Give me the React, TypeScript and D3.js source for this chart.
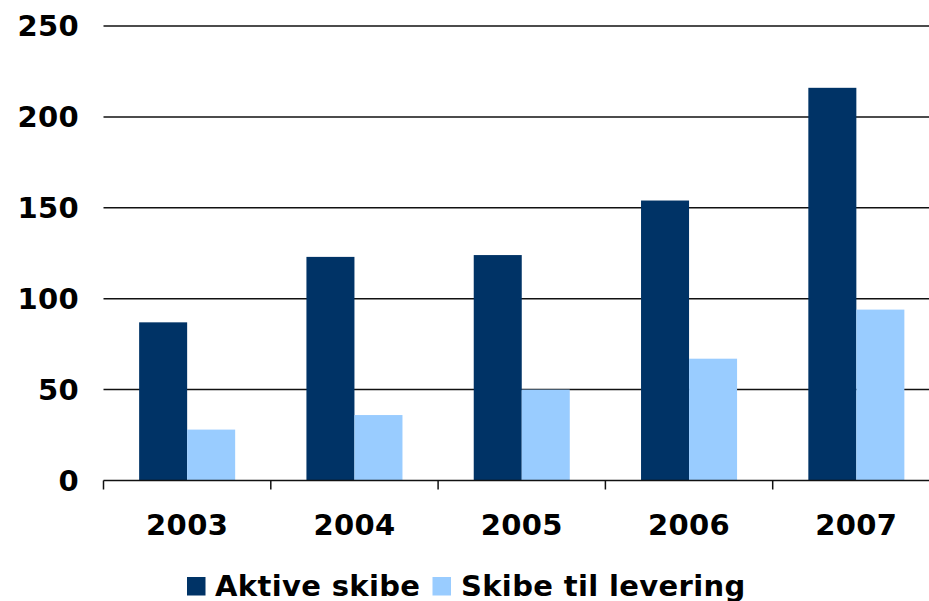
import React from "react";
import * as d3 from "d3";

const categories = ["2003", "2004", "2005", "2006", "2007"];
const seriesNames = ["Aktive skibe", "Skibe til levering"];
const aktive = [87, 123, 124, 154, 216];
const levering = [28, 36, 50, 67, 94];
const yTicks = [0, 50, 100, 150, 200, 250];
const colors = ["#003366", "#99CCFF"];

const W = 929;
const H = 601;
const left = 103.5;
const right = 940;
const top = 26;
const bottom = 480.5;
const font = "'DejaVu Sans', Verdana, sans-serif";
const fs = 29;
const ls = 0.35;

export default function App() {
  const x0 = d3.scaleBand<string>().domain(categories).range([left, right]).paddingInner(0.426).paddingOuter(0.213);
  const step = x0.step();
  const x1 = d3.scaleBand<string>().domain(seriesNames).range([0, x0.bandwidth()]);
  const y = d3.scaleLinear().domain([0, 250]).range([bottom, top]);
  const series = [aktive, levering];
  const boundaries = d3.range(categories.length + 1).map((i) => left + i * step);

  return (
    <svg width={W} height={H} style={{ position: "absolute", left: 0, top: 0, background: "#fff" }}>
      {yTicks.map((t) => (
        <g key={t}>
          {t > 0 && <line x1={left} x2={right} y1={y(t)} y2={y(t)} stroke="#111" strokeWidth={1.5} />}
          <text x={79} y={y(t)} dy="0.36em" textAnchor="end" fontFamily={font} fontWeight="bold" fontSize={fs} letterSpacing={ls} fill="#000">
            {t}
          </text>
        </g>
      ))}
      {categories.map((c, i) => (
        <g key={c}>
          {series.map((s, j) => (
            <rect
              key={j}
              x={(x0(c) as number) + (x1(seriesNames[j]) as number)}
              y={y(s[i])}
              width={x1.bandwidth()}
              height={y(0) - y(s[i])}
              fill={colors[j]}
            />
          ))}
          <text x={(x0(c) as number) + x0.bandwidth() / 2} y={525} dy="0.36em" textAnchor="middle" fontFamily={font} fontWeight="bold" fontSize={fs} letterSpacing={ls} fill="#000">
            {c}
          </text>
        </g>
      ))}
      <line x1={left} x2={right} y1={y(0)} y2={y(0)} stroke="#111" strokeWidth={1.5} />
      {boundaries.map((b, i) => (
        <line key={i} x1={b} x2={b} y1={y(0)} y2={y(0) + 9} stroke="#111" strokeWidth={1.5} />
      ))}
      <g>
        <rect x={187} y={577} width={18.5} height={18.5} fill={colors[0]} />
        <text x={215} y={596} fontFamily={font} fontWeight="bold" fontSize={fs} letterSpacing={ls} fill="#000">
          {seriesNames[0]}
        </text>
        <rect x={432.5} y={577} width={18.5} height={18.5} fill={colors[1]} />
        <text x={461} y={596} fontFamily={font} fontWeight="bold" fontSize={fs} letterSpacing={ls} fill="#000">
          {seriesNames[1]}
        </text>
      </g>
    </svg>
  );
}
